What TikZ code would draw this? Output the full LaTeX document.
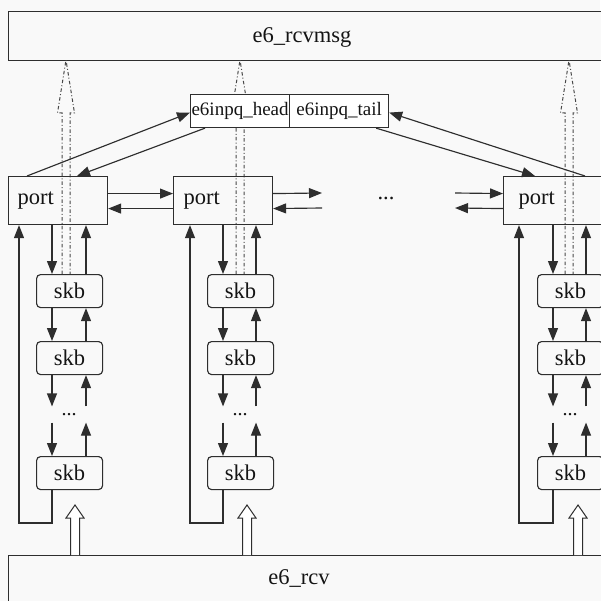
\documentclass[tikz,border=0pt]{standalone}
\usepackage{fontspec}
\setmainfont{Liberation Serif}
\usetikzlibrary{arrows.meta}
\definecolor{ink}{gray}{0.18}
\definecolor{textink}{gray}{0.08}
\definecolor{paper}{gray}{0.975}
\definecolor{dashink}{gray}{0.28}
\begin{document}
\begin{tikzpicture}[x=1pt,y=-1pt,line width=1.15pt,color=ink,text=textink,
  bigbox/.style={draw,rectangle,inner sep=0pt,anchor=north west,minimum width=602,fill=paper},
  txt/.style={inner sep=0pt,font=\fontsize{22.5}{24}\selectfont},
  qbox/.style={draw,rectangle,inner sep=0pt,anchor=north west,minimum width=99,minimum height=33,
    fill=white,font=\fontsize{19}{22}\selectfont},
  portbox/.style={draw,rectangle,anchor=north west,minimum height=48,inner ysep=0pt,align=left,
    font=\fontsize{22.5}{24}\selectfont},
  skbbox/.style={draw,rectangle,rounded corners=4pt,anchor=north west,minimum width=66,minimum height=33,
    inner sep=0pt,font=\fontsize{22.5}{24}\selectfont},
  dotsbox/.style={inner sep=0pt,minimum height=15,font=\fontsize{20}{22}\selectfont},
  arr/.style={-{Triangle[length=13pt,width=10pt]}},
  hollow/.style={draw,fill=white,line width=1pt,line join=miter},
  dashdotarrow/.style={draw=dashink,line width=1pt,dash pattern=on 3.5pt off 2.2pt on 1pt off 2.2pt}]

% canvas
\fill[paper] (0,0) rectangle (600,601);
\useasboundingbox (0,0) rectangle (600,601);

% receive-message layer and receive layer
\node[bigbox,minimum height=49] (rcvmsg) at (8,11) {};
\node[txt] (rcvmsgtext) at (302,37) {e6\_rcvmsg};
\node[bigbox,minimum height=60] (rcv) at (8,555) {};
\node[txt] (rcvtext) at (299,578) {e6\_rcv};

% dash-dotted hand-over arrows from the first skb up to e6_rcvmsg
\foreach \c/\ddx in {A/66,B/240,C/569}{
  \coordinate (dd\c) at (\ddx,274);
  \path[dashdotarrow] (dd\c) ++(-4,0) -- ++(0,-161) -- ++(-4.5,0) -- ++(8.5,-53)
    -- ++(8.5,53) -- ++(-4.5,0) -- ++(0,161);
}

% input queue head / tail
\node[qbox] (head) at (190,94) {e6inpq\_head};
\node[qbox] (tail) at (289,94) {e6inpq\_tail};

% one port with its skb chain per column
\foreach \c/\pl/\ins/\sl/\dx/\ux/\lx/\hx in
  {A/8/9/36/52/86/19/75, B/173/10/207/223/256/190/247, C/503/15/537/553/586/519/578}{
  \pgfmathsetmacro{\tw}{99-2*\ins}
  \node[portbox,inner xsep=\ins pt,text width=\tw pt] (port\c) at (\pl,176) {port};
  \node[skbbox] (skb\c1) at (\sl,274) {skb};
  \node[skbbox] (skb\c2) at (\sl,341) {skb};
  \node[dotsbox] (dots\c) at (\sl+33,414.5) {...};
  \node[skbbox] (skb\c3) at (\sl,456) {skb};
  \coordinate (d\c) at (\dx,0);
  \coordinate (u\c) at (\ux,0);
  \coordinate (loop\c) at (\lx,523);
  \coordinate (h\c) at (\hx,555);
  % downward links
  \draw[arr] (port\c.south -| d\c) -- (skb\c1.north -| d\c);
  \draw[arr] (skb\c1.south -| d\c) -- (skb\c2.north -| d\c);
  \draw[arr] (skb\c2.south -| d\c) -- (dots\c.north -| d\c);
  \draw[arr] (dots\c.south -| d\c) -- (skb\c3.north -| d\c);
  % upward links
  \draw[arr] (skb\c1.north -| u\c) -- (port\c.south -| u\c);
  \draw[arr] (skb\c2.north -| u\c) -- (skb\c1.south -| u\c);
  \draw[arr] (dots\c.north -| u\c) -- (skb\c2.south -| u\c);
  \draw[arr] (skb\c3.north -| u\c) -- (dots\c.south -| u\c);
  % tail back to the port
  \draw[arr] (skb\c3.south -| d\c) |- (loop\c) -- (port\c.south -| loop\c);
  % hollow arrow from e6_rcv
  \path[hollow] (h\c) ++(-4.5,0) -- ++(0,-37) -- ++(-4.5,0) -- ++(9,-13)
    -- ++(9,13) -- ++(-4.5,0) -- ++(0,37);
}

% links between neighbouring ports
\coordinate (gapL1) at (322,193);
\coordinate (gapL2) at (322,208);
\coordinate (gapR1) at (455,193);
\coordinate (gapR2) at (455,208);
\node[txt,anchor=base] (portdots) at (386,200) {...};
\draw[arr] ([yshift=7pt]portA.east) -- ([yshift=7pt]portB.west);
\draw[arr] ([yshift=-8pt]portB.west) -- ([yshift=-8pt]portA.east);
\draw[arr] ([yshift=7pt]portB.east) -- (gapL1);
\draw[arr] (gapL2) -- ([yshift=-8pt]portB.east);
\draw[arr] (gapR1) -- ([yshift=7pt]portC.west);
\draw[arr] ([yshift=-8pt]portC.west) -- (gapR2);

% links to the input queue
\draw[arr] ([xshift=19pt]portA.north west) -- ([yshift=-1.5pt]head.west);
\draw[arr] ([xshift=15pt]head.south west) -- ([xshift=69pt]portA.north west);
\draw[arr] ([xshift=82pt]portC.north west) -- ([yshift=-1.5pt]tail.east);
\draw[arr] ([xshift=-13pt]tail.south east) -- ([xshift=32pt]portC.north west);
\end{tikzpicture}
\end{document}
